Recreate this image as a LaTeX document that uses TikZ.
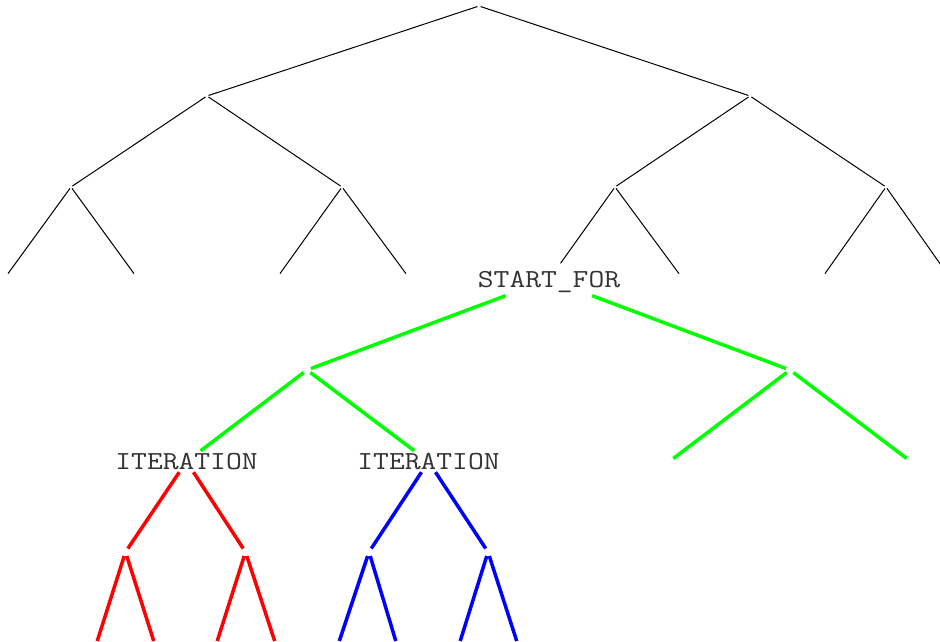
\documentclass[tikz,border=0pt]{standalone}
\usepackage{graphicx}
\definecolor{txtgray}{HTML}{333333}
\definecolor{lgreen}{RGB}{0,255,0}
\definecolor{lred}{RGB}{255,0,0}
\definecolor{lblue}{RGB}{0,0,255}
\newcommand{\treelabel}[1]{\scalebox{1.18}[1]{#1}}
\begin{document}
\begin{tikzpicture}[x=1pt,y=-1pt,
  pt/.style={circle,inner sep=0pt,minimum size=3pt},
  cpt/.style={circle,inner sep=0pt,minimum size=8pt},
  lbl/.style={font=\ttfamily\fontsize{26}{30}\selectfont,text=txtgray,
    inner xsep=2pt,inner ysep=0pt,text height=15pt,text depth=0pt},
  blk/.style={line width=1pt,black},
  gedge/.style={line width=3.5pt,lgreen},
  redge/.style={line width=3.5pt,lred},
  bedge/.style={line width=3.5pt,lblue}]
\useasboundingbox (0,0) rectangle (940,642);
\clip (0,0) rectangle (940,642);
% upper black tree
\node[pt] (R) at (479,6) {};
\node[pt] (A) at (207,96) {};
\node[pt] (B) at (750,96) {};
\node[pt] (A1) at (71,187) {};
\node[pt] (A2) at (342,187) {};
\node[pt] (B1) at (615,187) {};
\node[pt] (B2) at (886,187) {};
\node[pt] (A1a) at (7,275) {};
\node[pt] (A1b) at (135,275) {};
\node[pt] (A2a) at (279,275) {};
\node[pt] (A2b) at (407,275) {};
\node[pt] (B1b) at (680,275) {};
\node[pt] (B2a) at (824,275) {};
\node[pt] (B2b) at (948,275) {};
\node[lbl,minimum height=32pt] (SF) at (549,279.5) {\treelabel{START\_FOR}};
\draw[blk] (R) -- (A);
\draw[blk] (R) -- (B);
\draw[blk] (A) -- (A1);
\draw[blk] (A) -- (A2);
\draw[blk] (B) -- (B1);
\draw[blk] (B) -- (B2);
\draw[blk] (A1) -- (A1a);
\draw[blk] (A1) -- (A1b);
\draw[blk] (A2) -- (A2a);
\draw[blk] (A2) -- (A2b);
\draw[blk] (B1) -- (SF);
\draw[blk] (B1) -- (B1b);
\draw[blk] (B2) -- (B2a);
\draw[blk] (B2) -- (B2b);
% green subtree
\node[cpt] (G1) at (307,370) {};
\node[cpt] (G2) at (790,370) {};
\node[cpt] (G2a) at (670,461) {};
\node[cpt] (G2b) at (910,461) {};
\node[lbl,minimum height=21pt] (IT1) at (186.5,461.5) {\treelabel{ITERATION}};
\node[lbl,minimum height=21pt] (IT2) at (428.5,461.5) {\treelabel{ITERATION}};
\draw[gedge] (SF) -- (G1);
\draw[gedge] (SF) -- (G2);
\draw[gedge] (G1) -- (IT1);
\draw[gedge] (G1) -- (IT2);
\draw[gedge] (G2) -- (G2a);
\draw[gedge] (G2) -- (G2b);
% red subtree
\node[cpt] (R1) at (125.5,552) {};
\node[cpt] (R2) at (245.5,552) {};
\node[cpt] (R1a) at (96,645) {};
\node[cpt] (R1b) at (155,645) {};
\node[cpt] (R2a) at (216,645) {};
\node[cpt] (R2b) at (276,645) {};
\draw[redge] (IT1) -- (R1);
\draw[redge] (IT1) -- (R2);
\draw[redge] (R1) -- (R1a);
\draw[redge] (R1) -- (R1b);
\draw[redge] (R2) -- (R2a);
\draw[redge] (R2) -- (R2b);
% blue subtree
\node[cpt] (U1) at (369,552) {};
\node[cpt] (U2) at (488,552) {};
\node[cpt] (U1a) at (338,645) {};
\node[cpt] (U1b) at (397,645) {};
\node[cpt] (U2a) at (459,645) {};
\node[cpt] (U2b) at (518,645) {};
\draw[bedge] (IT2) -- (U1);
\draw[bedge] (IT2) -- (U2);
\draw[bedge] (U1) -- (U1a);
\draw[bedge] (U1) -- (U1b);
\draw[bedge] (U2) -- (U2a);
\draw[bedge] (U2) -- (U2b);
\end{tikzpicture}
\end{document}
